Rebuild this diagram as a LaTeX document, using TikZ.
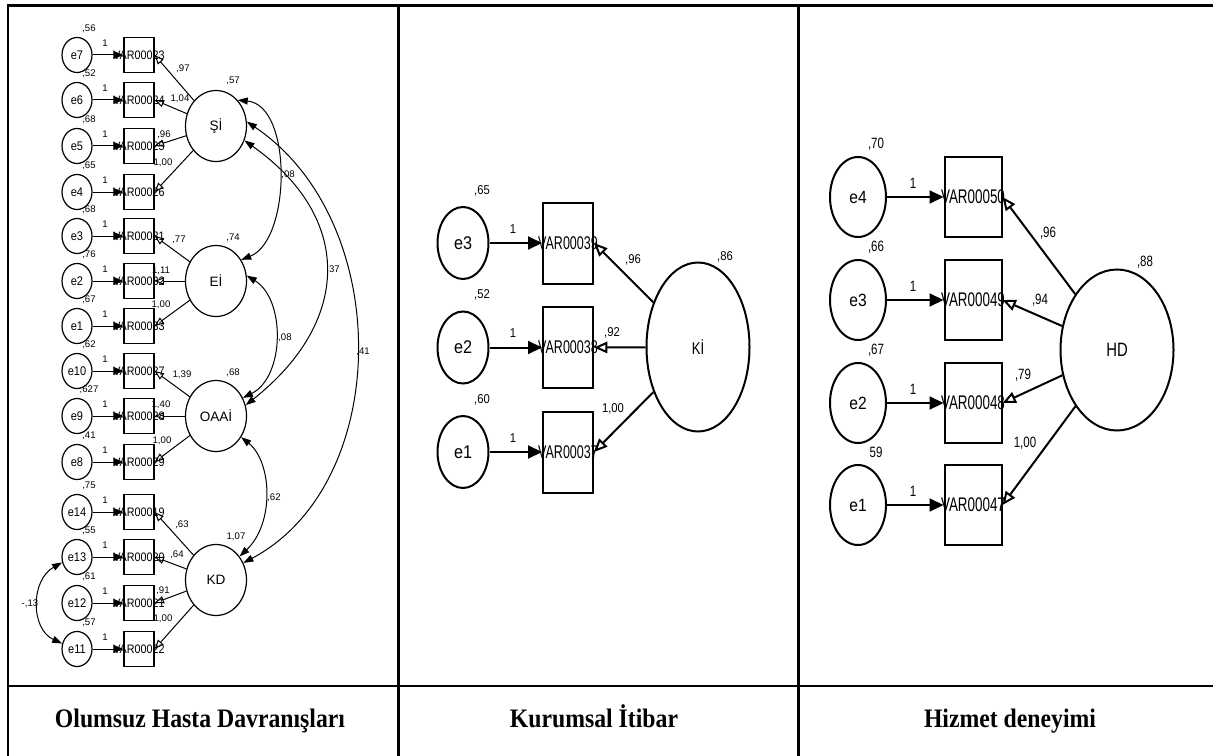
\documentclass[tikz,border=0pt]{standalone}
\usepackage{fontspec}
\setmainfont{Liberation Sans}
\newfontfamily\capfont[FakeStretch=0.89]{Liberation Serif}
\newfontfamily\sN[FakeStretch=0.88]{Liberation Sans}
\newfontfamily\sM[FakeStretch=0.77]{Liberation Sans}
\newfontfamily\sC[FakeStretch=0.68]{Liberation Sans}
\usetikzlibrary{arrows.meta,shapes.geometric}
\tikzset{
  grid/.style={line width=1.9pt},
  % panel 1
  ea/.style={draw, ellipse, line width=0.9pt, minimum width=22.5pt, minimum height=26.25pt, inner sep=0pt, font=\sN\fontsize{9.4}{10}\selectfont},
  va/.style={draw, rectangle, line width=0.9pt, minimum width=22.5pt, minimum height=26.25pt, inner sep=0pt, label={[font=\sN\fontsize{9.2}{10}\selectfont, inner sep=0pt]center:#1}},
  la/.style={draw, ellipse, line width=0.9pt, minimum width=45.75pt, minimum height=53.25pt, inner sep=0pt, font=\fontsize{10.2}{11}\selectfont},
  sa/.style={inner sep=0pt, font=\fontsize{7.2}{8}\selectfont},
  ta/.style={line width=0.75pt, -{Triangle[length=7.5pt,width=6pt]}},
  oa/.style={line width=0.75pt, -{Triangle[open,length=7pt,width=5.5pt]}},
  ca/.style={line width=0.75pt, {Triangle[length=7.5pt,width=5.25pt]}-{Triangle[length=7.5pt,width=5.25pt]}},
  % panel 2
  eb/.style={draw, ellipse, line width=1.5pt, minimum width=38.25pt, minimum height=54pt, inner sep=0pt, font=\sN\fontsize{13.8}{14}\selectfont},
  vb/.style={draw, rectangle, line width=1.5pt, minimum width=37.5pt, minimum height=60.75pt, inner sep=0pt, label={[font=\sC\fontsize{13.8}{14}\selectfont, inner sep=0pt]center:#1}},
  sb/.style={inner sep=0pt, font=\sN\fontsize{9.6}{10}\selectfont},
  % panel 3
  ec/.style={draw, ellipse, line width=1.5pt, minimum width=42pt, minimum height=60pt, inner sep=0pt, font=\sN\fontsize{13.3}{14}\selectfont},
  vc/.style={draw, rectangle, line width=1.5pt, minimum width=42.75pt, minimum height=60pt, inner sep=0pt, label={[font=\sC\fontsize{14.8}{15}\selectfont, inner sep=0pt]center:#1}},
  sc/.style={inner sep=0pt, font=\sM\fontsize{11.2}{12}\selectfont},
  tb/.style={line width=1.5pt, -{Triangle[length=10.5pt,width=9.75pt]}},
  ob/.style={line width=1.5pt, -{Triangle[open,length=10pt,width=8.5pt]}},
  capt/.style={inner sep=0pt, anchor=base, font=\capfont\bfseries\fontsize{20}{22}\selectfont},
}
\begin{document}
\begin{tikzpicture}[x=0.75pt,y=-0.75pt]
\useasboundingbox (0,0) rectangle (1213,756);
% table grid
\draw[grid] (8,760) -- (8,5.5) -- (1216,5.5);
\draw[grid] (398.5,5) -- (398.5,760);
\draw[grid] (798.5,5) -- (798.5,760);
\draw[grid] (8,686) -- (1216,686);
\node[capt] (cap1) at (200,727) {Olumsuz Hasta Davranışları};
\node[capt] (cap2) at (594,727) {Kurumsal İtibar};
\node[capt] (cap3) at (1010,727) {Hizmet deneyimi};

% ===== panel 1 =====
\foreach \i/\y/\e/\v/\w in {1/55/e7/VAR00023/{,56}, 2/100/e6/VAR00024/{,52}, 3/146/e5/VAR00025/{,68}, 4/192/e4/VAR00026/{,65}, 5/236/e3/VAR00031/{,68}, 6/281/e2/VAR00032/{,76}, 7/326/e1/VAR00033/{,67}, 8/371/e10/VAR00027/{,62}, 9/416/e9/VAR00028/{,627}, 10/462/e8/VAR00029/{,41}, 11/512/e14/VAR00019/{,75}, 12/557/e13/VAR00020/{,55}, 13/603/e12/VAR00021/{,61}, 14/649/e11/VAR00022/{,57}}{
  \node[ea] (pa\i) at (77,\y) {\e};
  \node[va=\v] (pb\i) at (139,\y) {};
  \node[sa] (pw\i) at (89,{\y-26}) {\w};
  \node[sa] (pn\i) at (105,{\y-12}) {1};
  \draw[ta] (pa\i) -- (pb\i);
}
\node[la] (SI) at (216,126) {Şİ};
\node[la] (EI) at (216,281) {Eİ};
\node[la] (OA) at (216,416) {OAAİ};
\node[la] (KD) at (216,580) {KD};
\node[sa] (vSI) at (233,81) {,57};
\node[sa] (vEI) at (233,238) {,74};
\node[sa] (vOA) at (233,373) {,68};
\node[sa] (vKD) at (236,537) {1,07};
% loadings
\foreach \L/\i/\t/\x/\y in {SI/1/{,97}/183/69, SI/2/{1,04}/180/99, SI/3/{,96}/164/135, SI/4/{1,00}/163/163,
  EI/5/{,77}/179/240, EI/6/{1,11}/161/271, EI/7/{1,00}/161/305,
  OA/8/{1,39}/182/375, OA/9/{1,40}/161/405, OA/10/{1,00}/162/441,
  KD/11/{,63}/182/525, KD/12/{,64}/177/555, KD/13/{,91}/163/591, KD/14/{1,00}/163/619}{
  \draw[oa] (\L) -- (pb\i.east);
  \node[sa] (pl\i) at (\x,\y) {\t};
}
% covariances
\draw[ca] (SI.50) .. controls +(55,5) and +(50,-20) .. (EI.40);
\draw[ca] (SI.-27) .. controls +(109,77) and +(106,-84) .. (OA.20);
\draw[ca] (SI.8) .. controls +(148,100) and +(149,-79) .. (KD.32);
\draw[ca] (EI.10) .. controls +(39,24) and +(42,-21) .. (OA.34);
\draw[ca] (OA.-40) .. controls +(31,25) and +(35,-33) .. (KD.45);
\draw[ca] (pa12.200) .. controls +(-31.7,17.8) and +(-31.7,-14.8) .. (pa14.160);
\node[sa] (c1) at (288,175) {,08};
\node[sa] (c2) at (333,270) {,37};
\node[sa] (c3) at (363,352) {,41};
\node[sa] (c4) at (285,338) {,08};
\node[sa] (c5) at (274,498) {,62};
\node[sa] (c6) at (30,604) {-,13};

% ===== panel 2 =====
\foreach \i/\y/\e/\v/\w in {1/243/e3/VAR00039/{,65}, 2/347.5/e2/VAR00038/{,52}, 3/452/e1/VAR00037/{,60}}{
  \node[eb] (qa\i) at (463,\y) {\e};
  \node[vb=\v] (qb\i) at (568,\y) {};
  \node[sb] (qw\i) at (482,{\y-52.5}) {\w};
  \node[sb] (qn\i) at (513,{\y-14}) {1};
  \draw[tb] (qa\i) -- (qb\i);
}
\node[draw, ellipse, line width=1.5pt, minimum width=77.25pt, minimum height=126.75pt, inner sep=0pt, font=\sM\fontsize{12.8}{13}\selectfont] (KI) at (698,347) {Kİ};
\node[sb] (vKI) at (725,257) {,86};
\foreach \i/\t/\x/\y in {1/{,96}/633/260, 2/{,92}/612/333, 3/{1,00}/613/409}{
  \draw[ob] (KI) -- (qb\i.east);
  \node[sb] (ql\i) at (\x,\y) {\t};
}

% ===== panel 3 =====
\foreach \i/\y/\e/\v/\w in {1/197/e4/VAR00050/{,70}, 2/300/e3/VAR00049/{,66}, 3/403/e2/VAR00048/{,67}, 4/505/e1/VAR00047/{59}}{
  \node[ec] (ra\i) at (858,\y) {\e};
  \node[vc=\v] (rb\i) at (973,\y) {};
  \node[sc] (rw\i) at (876,{\y-52.5}) {\w};
  \node[sc] (rn\i) at (913,{\y-14}) {1};
  \draw[tb] (ra\i) -- (rb\i);
}
\node[draw, ellipse, line width=1.5pt, minimum width=84.75pt, minimum height=120.75pt, inner sep=0pt, font=\sM\fontsize{14.5}{15}\selectfont] (HD) at (1117,350) {HD};
\node[sc] (vHD) at (1145,262) {,88};
\foreach \i/\t/\x/\y in {1/{,96}/1048/233, 2/{,94}/1040/300, 3/{,79}/1023/375, 4/{1,00}/1025/443}{
  \draw[ob] (HD) -- (rb\i.east);
  \node[sc] (rl\i) at (\x,\y) {\t};
}
\end{tikzpicture}
\end{document}
